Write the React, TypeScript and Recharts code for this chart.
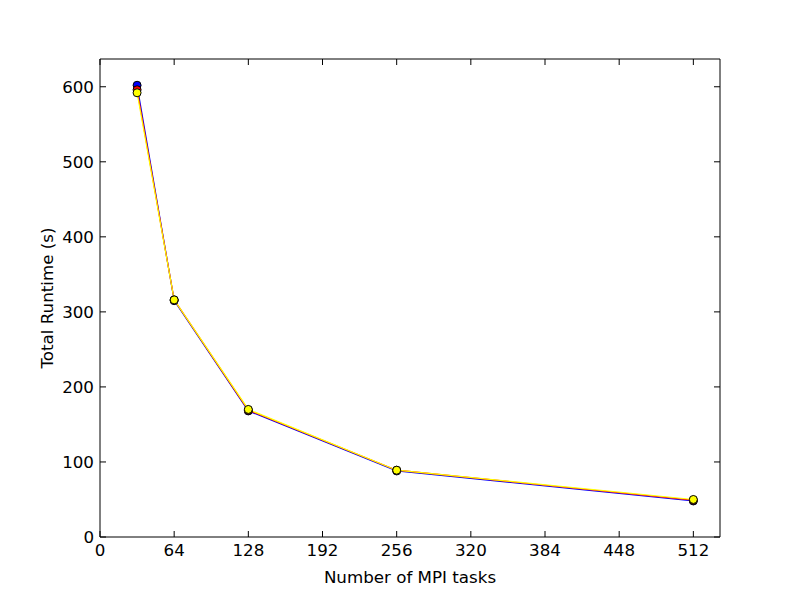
import { LineChart, Line, XAxis, YAxis } from 'recharts';

const tasks = [32, 64, 128, 256, 512];
const runBlue = [602, 315, 168, 88, 48];
const runRed = [596, 316, 169, 89, 49];
const runYellow = [592, 316, 170, 89, 50];
const xTicks = [0, 64, 128, 192, 256, 320, 384, 448, 512];
const yTicks = [0, 100, 200, 300, 400, 500, 600];

const data = tasks.map((t, i) => ({
  tasks: t,
  blue: runBlue[i],
  red: runRed[i],
  yellow: runYellow[i],
}));

const font = 'DejaVu Sans, sans-serif';
const FS = 16.7;
const TICK = 6;

const BottomTick = (props: any) => {
  const { x, y, payload } = props;
  return (
    <g>
      <line x1={x} y1={y} x2={x} y2={y - TICK} stroke="#000" />
      <text x={x} y={y + 19} textAnchor="middle" fontSize={FS} fontFamily={font} fill="#000">
        {payload.value}
      </text>
    </g>
  );
};

const LeftTick = (props: any) => {
  const { x, y, payload } = props;
  return (
    <g>
      <line x1={x} y1={y} x2={x + TICK} y2={y} stroke="#000" />
      <text x={x - 6} y={y + 6} textAnchor="end" fontSize={FS} fontFamily={font} fill="#000">
        {payload.value}
      </text>
    </g>
  );
};

const TopTick = (props: any) => {
  const { x, y } = props;
  return <line x1={x} y1={y} x2={x} y2={y + TICK} stroke="#000" />;
};

const RightTick = (props: any) => {
  const { x, y } = props;
  return <line x1={x} y1={y} x2={x - TICK} y2={y} stroke="#000" />;
};

const dot = (color: string) => ({ r: 4, fill: color, stroke: '#000', strokeWidth: 1 });

export default function App() {
  return (
    <div style={{ position: 'absolute', left: 0, top: 0, width: 800, height: 597, background: '#fff' }}>
      <LineChart
        width={800}
        height={597}
        data={data}
        margin={{ top: 58, right: 79, left: 40, bottom: 30 }}
      >
        <XAxis
          dataKey="tasks"
          type="number"
          domain={[0, 535]}
          ticks={xTicks}
          allowDataOverflow
          stroke="#000"
          tickSize={0}
          tickMargin={0}
          tick={<BottomTick />}
          height={30}
          label={{ value: 'Number of MPI tasks', position: 'insideBottom', offset: -16, fontSize: FS, fontFamily: font, fill: '#000' }}
        />
        <XAxis
          xAxisId="top"
          orientation="top"
          dataKey="tasks"
          type="number"
          domain={[0, 535]}
          ticks={xTicks}
          allowDataOverflow
          stroke="#000"
          tickSize={0}
          tickMargin={0}
          tick={<TopTick />}
          height={1}
        />
        <YAxis
          type="number"
          domain={[0, 637]}
          ticks={yTicks}
          allowDataOverflow
          stroke="#000"
          tickSize={0}
          tickMargin={0}
          tick={<LeftTick />}
          width={60}
          label={{ value: 'Total Runtime (s)', angle: -90, position: 'insideLeft', offset: 7, fontSize: FS, fontFamily: font, fill: '#000', style: { textAnchor: 'middle' } }}
        />
        <YAxis
          yAxisId="right"
          orientation="right"
          type="number"
          domain={[0, 637]}
          ticks={yTicks}
          allowDataOverflow
          stroke="#000"
          tickSize={0}
          tickMargin={0}
          tick={<RightTick />}
          width={1}
        />
        <Line dataKey="blue" stroke="#0000ff" strokeWidth={1.2} dot={dot('#0000ff')} activeDot={false} isAnimationActive={false} />
        <Line dataKey="red" stroke="#ff0000" strokeWidth={1.2} dot={dot('#ff0000')} activeDot={false} isAnimationActive={false} />
        <Line dataKey="yellow" stroke="#ffff00" strokeWidth={1.2} dot={dot('#ffff00')} activeDot={false} isAnimationActive={false} />
      </LineChart>
    </div>
  );
}
